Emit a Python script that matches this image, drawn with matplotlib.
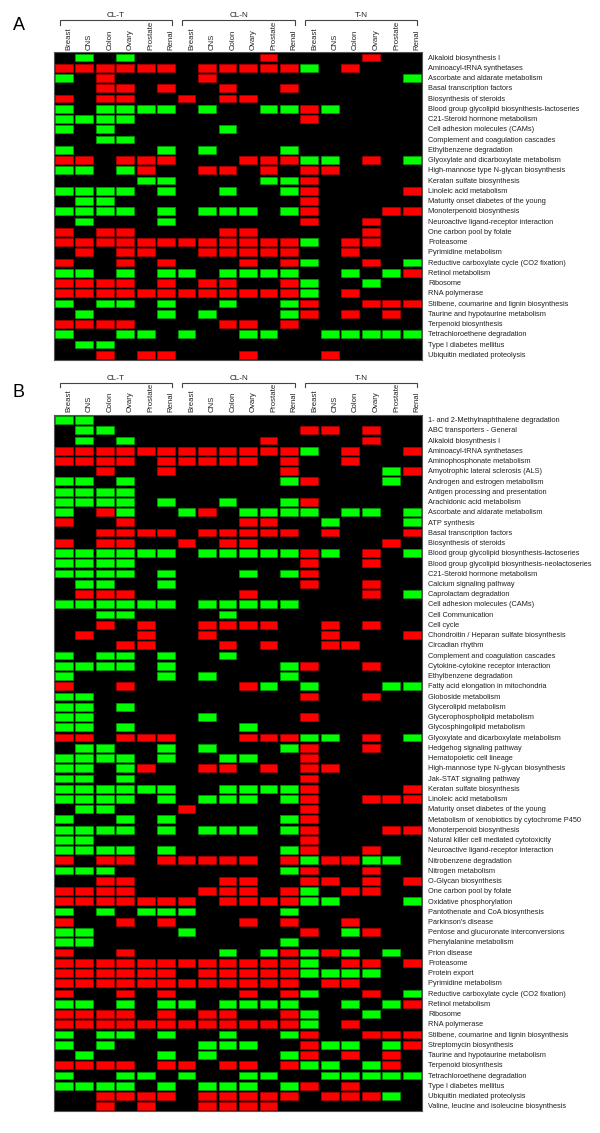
import matplotlib
matplotlib.use("Agg")
import matplotlib.pyplot as plt
import numpy as np

plt.rcParams['font.family'] = ['Liberation Sans', 'DejaVu Sans']

W, H = 600, 1133
GROUPS = ["CL-T", "CL-N", "T-N"]
TISSUES = ["Breast", "CNS", "Colon", "Ovary", "Prostate", "Renal"]

LABELS_A = [
    "Alkaloid biosynthesis I", "Aminoacyl-tRNA synthetases", "Ascorbate and aldarate metabolism",
    "Basal transcription factors", "Biosynthesis of steroids",
    "Blood group glycolipid biosynthesis-lactoseries", "C21-Steroid hormone metabolism",
    "Cell adhesion molecules (CAMs)", "Complement and coagulation cascades",
    "Ethylbenzene degradation", "Glyoxylate and dicarboxylate metabolism",
    "High-mannose type N-glycan biosynthesis", "Keratan sulfate biosynthesis",
    "Linoleic acid metabolism", "Maturity onset diabetes of the young",
    "Monoterpenoid biosynthesis", "Neuroactive ligand-receptor interaction",
    "One carbon pool by folate", "Proteasome", "Pyrimidine metabolism",
    "Reductive carboxylate cycle (CO2 fixation)", "Retinol metabolism", "Ribosome",
    "RNA polymerase", "Stilbene, coumarine and lignin biosynthesis",
    "Taurine and hypotaurine metabolism", "Terpenoid biosynthesis",
    "Tetrachloroethene degradation", "Type I diabetes mellitus", "Ubiquitin mediated proteolysis",
]
CALLS_A = [
    ".G.G.. ....R. ...R..", "RRRRRR .RRRRR G.R...", "G.R... .R.... .....G",
    "..RR.R ..R..R ......", "R.RR.. R.RR.. ......", "G.GGGG .G..GG RG....",
    "GGGG.. ...... R.....", "G.G... ..G... ......", "..GG.. ...... ......",
    "G....G .G...G ......", "RR.RRR ...RRR GG.R.G", "GG.GR. .RR.R. RR....",
    "....GG ....GG R.....", "GGGG.G ..G..G R....R", ".GG... ...... R.....",
    "GGGG.G .GGG.G R...RR", ".G...G ...... R..R..", "R.RR.. ..RR.. ...R..",
    "RRRRRR RRRRRR G.RR..", ".R.RR. .RRRRR ..R...", "R..R.R ...R.R G..R.G",
    "GG.G.G G.GGGG ..G.GR", "RRRR.R .RR..R G..G..", "RRRRRR RRRRRR G.R...",
    "G.GG.G ..G..G R..RRR", ".G...G .G...G R.R.R.", "RRRR.. ..RR.R ......",
    "G..GG. G..GG. .GGGGG", ".GG... ...... ......", "..R.RR ...R.. .R....",
]

LABELS_B = [
    "1- and 2-Methylnaphthalene degradation", "ABC transporters - General", "Alkaloid biosynthesis I",
    "Aminoacyl-tRNA synthetases", "Aminophosphonate metabolism", "Amyotrophic lateral sclerosis (ALS)",
    "Androgen and estrogen metabolism", "Antigen processing and presentation",
    "Arachidonic acid metabolism", "Ascorbate and aldarate metabolism", "ATP synthesis",
    "Basal transcription factors", "Biosynthesis of steroids",
    "Blood group glycolipid biosynthesis-lactoseries", "Blood group glycolipid biosynthesis-neolactoseries",
    "C21-Steroid hormone metabolism", "Calcium signaling pathway", "Caprolactam degradation",
    "Cell adhesion molecules (CAMs)", "Cell Communication", "Cell cycle",
    "Chondroitin / Heparan sulfate biosynthesis", "Circadian rhythm",
    "Complement and coagulation cascades", "Cytokine-cytokine receptor interaction",
    "Ethylbenzene degradation", "Fatty acid elongation in mitochondria", "Globoside metabolism",
    "Glycerolipid metabolism", "Glycerophospholipid metabolism", "Glycosphingolipid metabolism",
    "Glyoxylate and dicarboxylate metabolism", "Hedgehog signaling pathway",
    "Hematopoietic cell lineage", "High-mannose type N-glycan biosynthesis",
    "Jak-STAT signaling pathway", "Keratan sulfate biosynthesis", "Linoleic acid metabolism",
    "Maturity onset diabetes of the young", "Metabolism of xenobiotics by cytochrome P450",
    "Monoterpenoid biosynthesis", "Natural killer cell mediated cytotoxicity",
    "Neuroactive ligand-receptor interaction", "Nitrobenzene degradation", "Nitrogen metabolism",
    "O-Glycan biosynthesis", "One carbon pool by folate", "Oxidative phosphorylation",
    "Pantothenate and CoA biosynthesis", "Parkinson's disease",
    "Pentose and glucuronate interconversions", "Phenylalanine metabolism", "Prion disease",
    "Proteasome", "Protein export", "Pyrimidine metabolism",
    "Reductive carboxylate cycle (CO2 fixation)", "Retinol metabolism", "Ribosome", "RNA polymerase",
    "Stilbene, coumarine and lignin biosynthesis", "Streptomycin biosynthesis",
    "Taurine and hypotaurine metabolism", "Terpenoid biosynthesis", "Tetrachloroethene degradation",
    "Type I diabetes mellitus", "Ubiquitin mediated proteolysis",
    "Valine, leucine and isoleucine biosynthesis",
]
CALLS_B = [
    "GG.... ...... ......", ".GG... ...... RR.R..", ".G.G.. ....R. ...R..",
    "RRRRRR RRRRRR G.R..R", "RRRR.R RRRR.R ..R...", "..R..R .....R ....GR",
    "GG.G.. .....G R...G.", "GGGG.. ...... ......", "GGGG.G ..G..G R.....",
    "G.RG.. GR.GGG G.GG.G", "R..R.. ...RR. .G...G", "..RRRR .RRRRR .R...R",
    "R.RR.. R.RR.. ....R.", "GGGGGG .GGGGG RG.R.G", "GGGG.. ...... R..R..",
    "GGGG.G ...G.G R.....", ".GG..G ...... R..R..", ".RRR.. ...R.. ...R.G",
    "GGGGGG .GGGGG ......", "..GG.. ..G... ......", "..R.R. .RRRR. .R.R..",
    ".R..R. .R.... .R...R", "...RR. ..R.R. .RR...", "G.GG.G ..G... ......",
    "GGGG.G .....G R..R..", "G....G .G...G ......", "R..R.. ...RG. G...GG",
    "GG.... ...... R..R..", "GG.G.. ...... ......", "GG.... .G.... R.....",
    "GG.G.. ...G.. ......", "RR.RRR ...RRR GG.R.G", ".GG..G .G...G R..R..",
    "GGGG.G ..GG.. R.....", "GG.GR. .RR.R. RR....", "GG.G.. ...... R.....",
    "GGGGGG ..GGGG R....R", "GGGG.G .GGG.G R..RRR", ".GG... R..... R.....",
    "G..G.G .....G R.....", "GGGG.G .GGG.G R...RR", "GG.... ...... R.....",
    "GGGG.G .....G R..R..", "R.RR.R RRRR.R GRRGG.", "GGG... .....G R..R..",
    "..RR.. ..RR.. RR.R.R", "RRRR.. .RRR.R G.RR..", "RRRRRR R.RRRR GG...G",
    "G.G.GG G....G ......", "R..R.R ...R.R ..R...", "GG.... G..... R.GR..",
    "GG.... .....G ......", "R..R.. ..G.GR GRG.G.", "RRRRRR RRRRRR G.RR.R",
    "RRRRRR .RRRRR GGGG..", "RRRRRR RRRRRR .RR...", "R..R.R ...R.R G..R.G",
    "GG.G.G G.GGGG ..G.GR", "RRRR.R .RR..R G..G..", "RRRRRR RRRRRR G.R...",
    "G.GG.G ..G..G R..RRR", "G.G... .GGG.. RGG.GR", ".G...G .G...G R.R.R.",
    "RRRR.R R.RR.R GG.GR.", "G..GG. G..GG. .GGGGG", "GGGG.G .GGG.G R.R...",
    "..RRRR .RRRRR .RRRG.", "..R.R. .RRRR. ......",
]

COLORS = {"R": "#ff0000", "G": "#00ff00"}
EDGES = {"R": "#b00000", "G": "#00a000"}
TEXT_COLOR = "#222222"
LINE_COLOR = "#444444"
ROW_LABEL_SIZE = 5.3
COL_LABEL_SIZE = 5.6
GROUP_LABEL_SIZE = 5.9

fig = plt.figure(figsize=(W / 100, H / 100), dpi=100, facecolor="white")


def panel(letter, labels, calls, top, bottom, letter_y):
    left, right = 53.5, 422.0
    ax = fig.add_axes([left / W, 1 - bottom / H, (right - left) / W, (bottom - top) / H])
    ax.set_facecolor("black")
    n = len(labels)
    ax.set_xlim(0, 18)
    ax.set_ylim(n, 0)
    grid = [row.replace(" ", "") for row in calls]
    for kind in "RG":
        ys, xs = [], []
        for i, row in enumerate(grid):
            for j, c in enumerate(row):
                if c == kind:
                    ys.append(i + 0.53)
                    xs.append(j)
        ax.barh(ys, [0.87] * len(xs), left=np.array(xs) + 0.065, height=0.76,
                color=COLORS[kind], edgecolor=EDGES[kind], linewidth=0.5)
    ax.set_yticks(np.arange(n) + 0.5)
    ax.set_yticklabels(labels, fontsize=ROW_LABEL_SIZE, color=TEXT_COLOR)
    ax.yaxis.tick_right()
    ax.tick_params(axis="y", length=0, pad=4.6)
    ax.set_xticks(np.arange(18) + 0.75)
    ax.set_xticklabels(TISSUES * 3, rotation=90, fontsize=COL_LABEL_SIZE, color=TEXT_COLOR,
                       ha="center", va="bottom")
    ax.xaxis.tick_top()
    ax.tick_params(axis="x", length=0, pad=1.5)
    for s in ax.spines.values():
        s.set_color("#555555")
        s.set_linewidth(0.8)
    # brackets above the column labels
    to_ax = ax.get_xaxis_transform()
    h = bottom - top
    y_line = 1 + 32 / h
    y_tick = 1 + 27 / h
    for g, name in enumerate(GROUPS):
        x0 = g * 6 + 0.3
        x1 = g * 6 + 5.78
        ax.plot([x0, x0, x1, x1], [y_tick, y_line, y_line, y_tick], transform=to_ax,
                color=LINE_COLOR, lw=0.8, clip_on=False, solid_joinstyle="miter")
        ax.text((x0 + x1) / 2, y_line + 0.8 / h, name, transform=to_ax, ha="center", va="bottom",
                fontsize=GROUP_LABEL_SIZE, color=TEXT_COLOR)
    fig.text(13 / W, 1 - letter_y / H, letter, fontsize=13, color="black", ha="left", va="baseline")


panel("A", LABELS_A, CALLS_A, 52.0, 359.5, 30)
panel("B", LABELS_B, CALLS_B, 414.5, 1111.0, 397)

fig.savefig("out.png", dpi=100, facecolor="white")
